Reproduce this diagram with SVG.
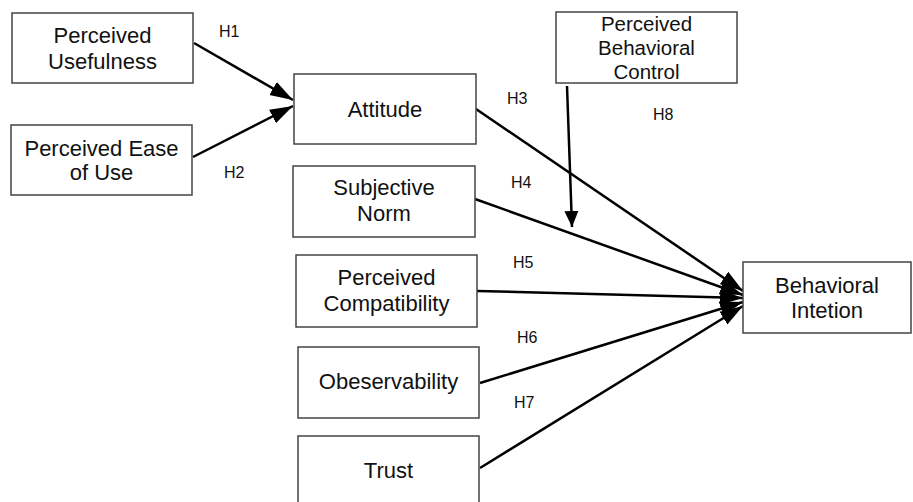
<svg xmlns="http://www.w3.org/2000/svg" width="913" height="502" viewBox="0 0 913 502">
<style>
.box{fill:#fff;stroke:#444;stroke-width:1.5}
.t{font-family:"Liberation Sans",Arial,sans-serif;font-size:22px;fill:#111;text-anchor:middle}
.t2{font-family:"Liberation Sans",Arial,sans-serif;font-size:20.5px;fill:#111;text-anchor:middle}
.h{font-family:"Liberation Sans",Arial,sans-serif;font-size:16px;fill:#111}
.c{fill:none;stroke:#000;stroke-width:2.5}
</style>
<defs>
<marker id="a" markerUnits="userSpaceOnUse" markerWidth="24" markerHeight="16" refX="23" refY="8" orient="auto">
<path d="M0,0.5 L23,8 L0,15.5 z" fill="#000"/>
</marker>
<marker id="b" markerUnits="userSpaceOnUse" markerWidth="18" markerHeight="16" refX="16" refY="7.5" orient="auto">
<path d="M0,0.5 L16,7.5 L0,14.5 z" fill="#000"/>
</marker>
</defs>
<g id="connectors">
<line class="c" x1="194" y1="43" x2="293" y2="100" marker-end="url(#a)"/>
<line class="c" x1="193" y1="157" x2="293" y2="106" marker-end="url(#a)"/>
<line class="c" x1="476" y1="109" x2="743" y2="291" marker-end="url(#a)"/>
<line class="c" x1="475" y1="199" x2="743" y2="295" marker-end="url(#a)"/>
<line class="c" x1="477" y1="291" x2="743" y2="298" marker-end="url(#a)"/>
<line class="c" x1="480" y1="383" x2="743" y2="302" marker-end="url(#a)"/>
<line class="c" x1="480" y1="468" x2="743" y2="306" marker-end="url(#a)"/>
<line class="c" x1="567" y1="86" x2="572" y2="227" marker-end="url(#b)"/>
</g>
<g id="labels">
<text class="h" x="219" y="37">H1</text>
<text class="h" x="224" y="178">H2</text>
<text class="h" x="507" y="104">H3</text>
<text class="h" x="511" y="188">H4</text>
<text class="h" x="513" y="268">H5</text>
<text class="h" x="517" y="343">H6</text>
<text class="h" x="514" y="408">H7</text>
<text class="h" x="653" y="120">H8</text>
</g>
<g id="perceived-usefulness">
<rect class="box" x="12" y="13" width="181" height="70"/>
<text class="t" x="102.5" y="43">Perceived</text>
<text class="t" x="102.5" y="69">Usefulness</text>
</g>
<g id="perceived-ease-of-use">
<rect class="box" x="11" y="125" width="181" height="70"/>
<text class="t" x="101.5" y="156">Perceived Ease</text>
<text class="t" x="101.5" y="180">of Use</text>
</g>
<g id="attitude">
<rect class="box" x="294" y="74" width="182" height="70"/>
<text class="t" x="385" y="117">Attitude</text>
</g>
<g id="subjective-norm">
<rect class="box" x="293" y="166" width="182" height="71"/>
<text class="t" x="384" y="195">Subjective</text>
<text class="t" x="384" y="221">Norm</text>
</g>
<g id="perceived-compatibility">
<rect class="box" x="296" y="255" width="181" height="72"/>
<text class="t" x="386.5" y="285">Perceived</text>
<text class="t" x="386.5" y="311">Compatibility</text>
</g>
<g id="obeservability">
<rect class="box" x="298" y="347" width="181" height="71"/>
<text class="t" x="388.5" y="389">Obeservability</text>
</g>
<g id="trust">
<rect class="box" x="298" y="436" width="181" height="72"/>
<text class="t" x="388.5" y="478">Trust</text>
</g>
<g id="perceived-behavioral-control">
<rect class="box" x="556" y="12" width="181" height="71"/>
<text class="t2" x="646.5" y="31">Perceived</text>
<text class="t2" x="646.5" y="55">Behavioral</text>
<text class="t2" x="646.5" y="79">Control</text>
</g>
<g id="behavioral-intention">
<rect class="box" x="743" y="262" width="168" height="71"/>
<text class="t" x="827" y="293">Behavioral</text>
<text class="t" x="827" y="318">Intetion</text>
</g>
</svg>
